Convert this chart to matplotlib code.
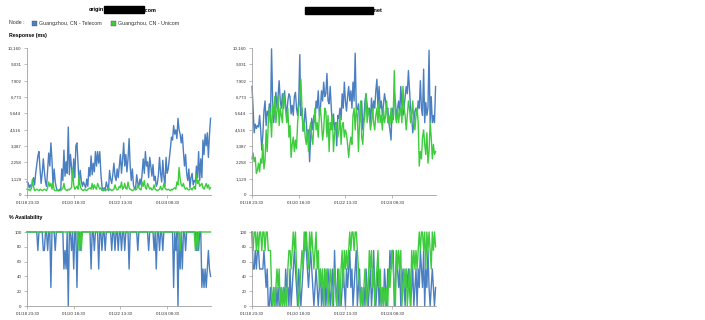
import matplotlib
matplotlib.use("Agg")
import matplotlib.pyplot as plt
from matplotlib.ticker import FuncFormatter
from matplotlib.patches import Rectangle

plt.rcParams['font.family'] = ['Liberation Sans', 'DejaVu Sans']

# hourly samples starting 01/18 23:30
x_ticks = [0, 43, 86, 129]
x_labels = ['01/18 23:30', '01/20 18:30', '01/22 13:30', '01/24 08:30']
resp_ticks = [0, 1129, 2258, 3387, 4516, 5644, 6773, 7902, 9031, 10160]
avail_ticks = [0, 20, 40, 60, 80, 100]
series_names = ['Guangzhou, CN - Telecom', 'Guangzhou, CN - Unicom']

# origin...com  response (ms)
tl_telecom = [
    900, 850, 500, 700, 500, 800, 1200, 700, 1500, 2100,
    2700, 3000, 1800, 800, 1500, 2500, 1600, 900, 600, 1800,
    2900, 2000, 3600, 2400, 600, 1800, 900, 500, 300, 300,
    400, 300, 1800, 1000, 3100, 1300, 2300, 1500, 4700, 1400,
    2800, 1900, 1000, 2500, 1200, 3400, 3600, 2200, 700, 1700,
    1000, 600, 900, 700, 500, 1100, 600, 1900, 1300, 2700,
    1400, 2200, 1600, 3000, 2000, 3000, 2200, 3000, 1500, 600,
    300, 500, 300, 900, 600, 300, 1700, 1100, 800, 1400,
    2200, 1300, 1000, 1800, 1200, 2000, 2800, 1500, 2400, 3600,
    2000, 2800, 1600, 2500, 3900, 2000, 1000, 1800, 700, 400,
    500, 1400, 800, 600, 1100, 700, 1500, 2500, 1500, 3000,
    2000, 2300, 1200, 2600, 2000, 1300, 2100, 1000, 1300, 600,
    800, 1400, 2600, 1500, 900, 2400, 1300, 600, 2600, 1500,
    1800, 2500, 3200, 4000, 3800, 4800, 4200, 4500, 3900, 5300,
    4500, 4200, 3600, 4200, 3000, 2000, 2800, 1500, 1000, 1800,
    500, 1200, 1500, 700, 1000, 900, 2000, 1200, 3000, 1000,
    2500, 1200, 3800, 2800, 4200, 3400, 4300, 2600, 4200, 5300,
]
tl_unicom = [
    400, 350, 400, 300, 450, 1100, 600, 300, 350, 400,
    350, 300, 400, 350, 300, 350, 400, 350, 300, 500,
    900, 600, 800, 400, 900, 350, 300, 300, 350, 300,
    300, 350, 400, 450, 800, 400, 350, 300, 400, 350,
    450, 500, 1800, 700, 400, 500, 600, 400, 1400, 600,
    400, 350, 300, 400, 350, 300, 400, 450, 500, 400,
    800, 400, 700, 500, 400, 800, 600, 400, 500, 300,
    350, 400, 300, 350, 400, 500, 350, 400, 300, 350,
    400, 700, 450, 350, 400, 600, 500, 900, 400, 500,
    800, 450, 400, 900, 500, 400, 350, 300, 350, 400,
    350, 400, 700, 500, 400, 350, 900, 600, 1000, 500,
    400, 800, 600, 400, 500, 350, 400, 700, 400, 350,
    300, 350, 400, 600, 350, 400, 800, 500, 400, 350,
    400, 350, 300, 400, 350, 450, 500, 400, 900, 700,
    1900, 1100, 700, 600, 800, 500, 400, 500, 400, 350,
    400, 450, 350, 500, 600, 400, 1400, 800, 1000, 600,
    700, 800, 500, 400, 600, 800, 500, 700, 400, 500,
]

# ...net  response (ms)
tr_telecom = [
    7500, 6000, 4300, 4900, 4600, 4800, 4700, 5500, 4500, 3100,
    4200, 5800, 6500, 4800, 5800, 5500, 6300, 5000, 10100, 6500,
    5000, 6200, 7100, 6000, 6800, 7900, 6500, 6000, 7000, 6000,
    7200, 6200, 5500, 6500, 7000, 6800, 5600, 6200, 5500, 6800,
    7100, 6000, 5500, 6500, 9700, 5500, 6000, 4400, 5000, 6000,
    5000, 3800, 4500, 2300, 4000, 5300, 4500, 5500, 5000, 6500,
    6000, 7200, 5500, 6000, 7200, 6500, 7800, 6800, 7000, 8400,
    6500, 6300, 7500, 6000, 4700, 5600, 4500, 5000, 3400, 5500,
    5300, 6000, 5200, 7000, 6000, 7800, 6500, 5800, 6800, 7500,
    6500, 7200, 6000, 7800, 6500, 9800, 6000, 5900, 6300, 5000,
    5500, 6500, 4500, 5300, 6500, 7000, 6200, 5600, 6000, 5000,
    6700, 5500, 6500, 6000, 7200, 8000, 6000, 7500, 6000, 6500,
    5500, 6200, 7000, 6500, 5800, 6000, 5000, 4500, 3800, 6000,
    5200, 7100, 6500, 5200, 6000, 6500, 5500, 7500, 6200, 5500,
    6000, 6800, 7500, 7000, 8600, 7300, 6000, 5400, 4300, 5000,
    5800, 6000, 5500, 6500, 6000, 7900, 6000, 5500, 8700, 5000,
    6400, 5500, 6000, 10000, 5000, 6800, 5000, 5500, 5000, 7500,
]
tr_unicom = [
    2500, 2900, 2300, 2600, 1500, 1700, 2200, 1600, 2500, 2200,
    3500, 1800, 2400, 4500, 3000, 5000, 6000, 5500, 4000, 6200,
    5500, 6800, 5000, 5800, 6800, 4800, 6000, 5500, 5000, 7000,
    6500, 5800, 5000, 6000, 4000, 4800, 2600, 3500, 4000, 3000,
    3800, 3200, 5000, 6000, 6500, 8000, 6000, 4500, 5000, 4000,
    3500, 4500, 3000, 4500, 5000, 4000, 3500, 5000, 6000, 4500,
    5000, 4000, 5500, 6000, 5000, 3800, 4500, 6000, 5800, 4000,
    5500, 3000, 5000, 4500, 5500, 3000, 4200, 4800, 5000, 4000,
    4500, 5500, 3500, 4800, 5000, 4000, 4500, 4200, 3500, 2600,
    3500, 4000, 3500, 5500, 6000, 4500, 6000, 5500, 3000, 5000,
    6500, 4000, 3500, 5000, 5500, 7000, 5000, 6000, 5500, 4500,
    5000, 6000, 5000, 4500, 5500, 6000, 5000, 6500, 5000, 5500,
    4500, 6000, 5000, 5500, 6500, 5000, 5500, 4800, 6000, 5000,
    5500, 8600, 5500, 5000, 6000, 5000, 5800, 6000, 5000, 7500,
    6000, 5500, 4500, 5500, 6500, 6000, 5000, 5500, 6500, 5000,
    4500, 5500, 6000, 5000, 2000, 3000, 2500, 4000, 4500, 3500,
    2800, 4300, 2200, 3000, 5000, 4000, 2500, 3500, 2800, 3000,
]

# availability (%)
bl_telecom = [
    100, 100, 100, 100, 100, 100, 100, 100, 100, 100,
    75, 100, 100, 100, 100, 75, 75, 100, 100, 75,
    100, 100, 25, 100, 100, 100, 75, 100, 100, 100,
    100, 100, 100, 100, 50, 75, 50, 100, 0, 100,
    100, 75, 100, 50, 100, 100, 25, 100, 100, 75,
    100, 100, 100, 100, 100, 100, 100, 100, 100, 50,
    100, 100, 75, 100, 100, 100, 50, 100, 100, 75,
    100, 100, 75, 100, 100, 100, 100, 100, 75, 100,
    100, 75, 100, 100, 75, 100, 100, 75, 100, 100,
    75, 100, 100, 100, 50, 100, 100, 100, 100, 100,
    100, 100, 75, 100, 100, 100, 100, 100, 100, 100,
    100, 100, 75, 100, 100, 100, 100, 75, 100, 50,
    100, 100, 75, 100, 100, 75, 100, 100, 100, 100,
    100, 100, 100, 100, 100, 25, 100, 75, 100, 0,
    100, 50, 100, 50, 100, 100, 75, 100, 100, 100,
    100, 100, 100, 100, 100, 100, 75, 100, 75, 100,
    100, 25, 50, 25, 50, 25, 50, 75, 50, 40,
]
bl_unicom = [
    100, 100, 100, 100, 100, 100, 100, 100, 100, 100,
    100, 100, 100, 100, 100, 100, 100, 100, 100, 100,
    100, 100, 100, 100, 100, 100, 100, 100, 100, 100,
    100, 100, 100, 100, 100, 100, 100, 100, 100, 100,
    100, 100, 100, 100, 100, 100, 100, 100, 75, 100,
    75, 100, 100, 100, 100, 100, 100, 100, 100, 100,
    100, 100, 100, 100, 100, 100, 100, 100, 100, 100,
    100, 100, 100, 100, 100, 100, 100, 100, 100, 100,
    100, 100, 100, 100, 100, 100, 100, 100, 100, 100,
    100, 100, 100, 100, 100, 100, 100, 100, 100, 100,
    100, 100, 100, 100, 100, 100, 100, 100, 100, 100,
    100, 100, 100, 100, 100, 100, 100, 100, 100, 100,
    100, 100, 100, 100, 100, 100, 100, 100, 100, 100,
    100, 100, 100, 100, 100, 100, 100, 100, 100, 100,
    100, 75, 100, 100, 100, 100, 100, 100, 100, 100,
    100, 100, 100, 100, 100, 75, 100, 75, 100, 100,
    100, 100, 100, 100, 100, 100, 100, 100, 100, 100,
]
br_telecom = [
    100, 50, 50, 75, 50, 75, 75, 50, 50, 50,
    50, 75, 50, 25, 50, 0, 0, 25, 0, 0,
    25, 0, 25, 0, 25, 0, 0, 25, 0, 25,
    0, 50, 25, 25, 0, 50, 0, 25, 50, 75,
    50, 25, 0, 50, 25, 0, 25, 50, 75, 100,
    75, 50, 25, 50, 75, 50, 25, 0, 25, 50,
    25, 0, 25, 50, 0, 25, 0, 50, 0, 25,
    50, 25, 0, 25, 50, 0, 75, 25, 0, 50,
    0, 25, 0, 25, 50, 25, 0, 50, 25, 50,
    75, 25, 50, 0, 25, 50, 75, 0, 25, 50,
    0, 25, 0, 25, 0, 50, 25, 0, 25, 50,
    0, 25, 75, 25, 0, 25, 50, 0, 25, 0,
    25, 0, 50, 25, 0, 50, 25, 75, 50, 75,
    75, 0, 25, 75, 50, 25, 50, 0, 25, 50,
    25, 0, 50, 25, 50, 25, 0, 25, 50, 0,
    25, 50, 0, 50, 25, 75, 50, 25, 75, 0,
    50, 25, 75, 25, 0, 25, 50, 25, 0, 25,
]
br_unicom = [
    100, 75, 100, 100, 75, 100, 75, 100, 100, 75,
    100, 100, 75, 100, 100, 75, 75, 75, 25, 0,
    25, 0, 25, 50, 25, 50, 0, 25, 0, 25,
    0, 25, 0, 50, 75, 75, 50, 75, 100, 75,
    100, 50, 25, 0, 25, 50, 75, 50, 100, 75,
    100, 75, 50, 100, 75, 100, 75, 50, 75, 100,
    50, 75, 25, 50, 25, 50, 0, 50, 25, 50,
    0, 25, 50, 25, 0, 25, 50, 25, 0, 25,
    50, 0, 50, 75, 25, 75, 50, 75, 50, 75,
    100, 75, 100, 100, 75, 100, 100, 75, 50, 25,
    0, 25, 0, 25, 50, 25, 0, 25, 75, 50,
    75, 25, 50, 0, 25, 50, 75, 25, 50, 0,
    25, 0, 25, 0, 25, 0, 50, 25, 50, 75,
    50, 25, 0, 75, 50, 75, 50, 75, 0, 25,
    50, 25, 50, 0, 25, 50, 0, 75, 50, 75,
    50, 75, 50, 75, 100, 75, 100, 100, 75, 100,
    50, 100, 75, 100, 75, 50, 100, 75, 100, 80,
]

BLUE = '#4a7fc1'
GREEN = '#3dcc3d'
W, H = 705.0, 320.0


def px_axes(fig, x0, y0, x1, y1):
    return fig.add_axes([x0 / W, 1 - y1 / H, (x1 - x0) / W, (y1 - y0) / H])


def style(ax, yticks, ymax, fmt):
    for s in ['top', 'right']:
        ax.spines[s].set_visible(False)
    for s in ['left', 'bottom']:
        ax.spines[s].set_color('#a0a0a0')
        ax.spines[s].set_linewidth(0.6)
    ax.set_xlim(0, 169.4)
    ax.set_ylim(0, ymax)
    ax.set_xticks(x_ticks)
    ax.set_xticklabels(x_labels)
    ax.set_yticks(yticks)
    ax.yaxis.set_major_formatter(FuncFormatter(fmt))
    ax.tick_params(axis='both', labelsize=3.2, length=2, width=0.5,
                   colors='#a0a0a0', labelcolor='#333333', pad=2)


fig = plt.figure(figsize=(7.05, 3.2), dpi=100)

panels = [
    ((27, 48, 211, 195), tl_telecom, tl_unicom, resp_ticks, 10160),
    ((252, 48, 436, 195), tr_telecom, tr_unicom, resp_ticks, 10160),
    ((27, 232, 211, 306), bl_telecom, bl_unicom, avail_ticks, 100),
    ((252, 232, 436, 306), br_telecom, br_unicom, avail_ticks, 100),
]
for box, s1, s2, yt, ymax in panels:
    ax = px_axes(fig, *box)
    ax.plot(range(len(s1)), s1, color=BLUE, lw=1.0, clip_on=False)
    ax.plot(range(len(s2)), s2, color=GREEN, lw=1.0, clip_on=False)
    style(ax, yt, ymax, lambda v, p: '{:,.0f}'.format(v))

# titles (host names redacted with black bars)
fig.text(104 / W, 1 - 10 / H, 'origin', ha='right', va='center',
         fontsize=4, fontweight='bold')
fig.patches.append(Rectangle((104 / W, 1 - 12.5 / H), 40 / W, 6 / H,
                             transform=fig.transFigure, color='black'))
fig.text(144 / W, 1 - 10 / H, '.com', ha='left', va='center',
         fontsize=4, fontweight='bold')
fig.patches.append(Rectangle((305 / W, 1 - 14 / H), 68 / W, 7 / H,
                             transform=fig.transFigure, color='black'))
fig.text(373 / W, 1 - 10.5 / H, '.net', ha='left', va='center',
         fontsize=4, fontweight='bold')

# legend row
fig.text(9 / W, 1 - 23 / H, 'Node :', ha='left', va='center', fontsize=3.8, color='#333333')
for (sx, tx), name, col in zip([(32, 39), (111, 118)], series_names, [BLUE, GREEN]):
    fig.patches.append(Rectangle((sx / W, 1 - 25.5 / H), 5 / W, 5 / H,
                                 transform=fig.transFigure, facecolor=col,
                                 edgecolor='#555555', linewidth=0.3))
    fig.text(tx / W, 1 - 23 / H, name, ha='left', va='center', fontsize=3.8, color='#333333')

fig.text(9 / W, 1 - 36 / H, 'Response (ms)', ha='left', va='center',
         fontsize=3.8, fontweight='bold')
fig.text(9 / W, 1 - 218 / H, '% Availability', ha='left', va='center',
         fontsize=3.8, fontweight='bold')

fig.savefig('out.png', dpi=100, facecolor='white')
